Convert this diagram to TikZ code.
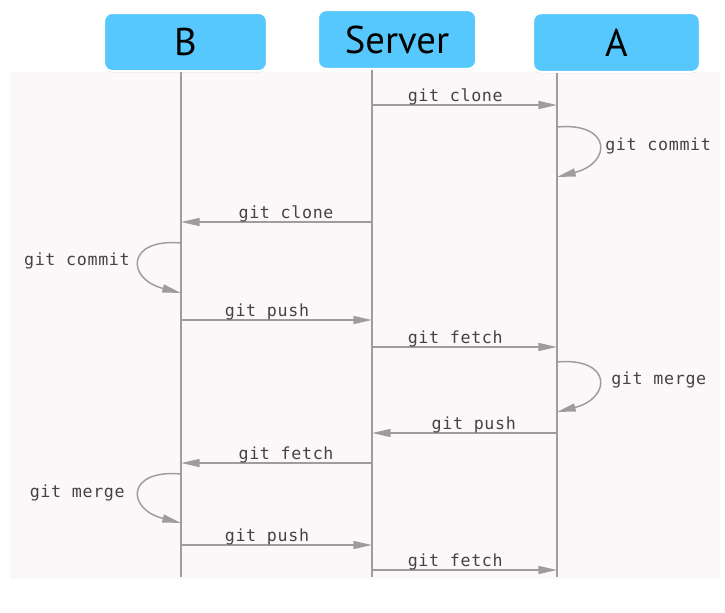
\documentclass[tikz,border=0pt]{standalone}
\usepackage{fontspec}
\usetikzlibrary{arrows.meta,shadows}
\newfontfamily\boxfont{PT Sans}
\newfontfamily\msgfont[LetterSpace=4]{DejaVu Sans Mono}
\definecolor{boxblue}{HTML}{57C8FD}
\definecolor{linegray}{HTML}{A19C9C}
\definecolor{txtgray}{HTML}{444242}
\definecolor{bggray}{HTML}{FAF8F8}
\begin{document}
\begin{tikzpicture}[x=0.75pt,y=-0.75pt,
  actor/.style={draw=white, line width=1.5pt, fill=boxblue, rounded corners=6pt,
    inner sep=0pt, text=black, font=\boxfont\fontsize{29}{30}\selectfont,
    drop shadow={shadow xshift=0pt, shadow yshift=-1pt, opacity=0.3, fill=gray}},
  life/.style={draw=linegray, line width=1.1pt},
  msg/.style={draw=linegray, line width=1.1pt, -{Triangle[length=14pt,width=6pt]}},
  lbl/.style={text=txtgray, font=\msgfont\fontsize{12.5}{13}\selectfont, inner sep=0pt},
  mlbl/.style={lbl, anchor=base, yshift=2.6pt, pos=0.45}]
\useasboundingbox (0,0) rectangle (725,612);
\fill[white] (0,0) rectangle (725,612);
\fill[bggray] (10,72) rectangle (720,579);

% lifelines
\coordinate (Btop) at (181,70);
\coordinate (Bbot) at (181,577);
\coordinate (Stop) at (372,68);
\coordinate (Sbot) at (372,577);
\coordinate (Atop) at (557,71);
\coordinate (Abot) at (557,577);
\draw[life] (Btop) -- (Bbot);
\draw[life] (Stop) -- (Sbot);
\draw[life] (Atop) -- (Abot);

% actors
\node[actor, minimum width=122pt, minimum height=43.5pt] (B) at (185.5,42) {B};
\node[actor, minimum width=118.5pt, minimum height=44pt] (S) at (397,39.5) {Server};
\node[actor, minimum width=125pt, minimum height=44pt] (A) at (616.5,42.5) {A};

% message end points
\coordinate (s1) at (372,105); \coordinate (a1) at (557,105);
\coordinate (s2) at (372,222); \coordinate (b2) at (181,222);
\coordinate (b3) at (181,320); \coordinate (s3) at (372,320);
\coordinate (s4) at (372,347); \coordinate (a4) at (557,347);
\coordinate (a5) at (557,433); \coordinate (s5) at (372,433);
\coordinate (s6) at (372,463); \coordinate (b6) at (181,463);
\coordinate (b7) at (181,545); \coordinate (s7) at (372,545);
\coordinate (s8) at (372,570); \coordinate (a8) at (557,570);

\draw[msg] (s1) -- (a1) node[mlbl] {git clone};
\draw[msg] (s2) -- (b2) node[mlbl] {git clone};
\draw[msg] (b3) -- (s3) node[mlbl] {git push};
\draw[msg] (s4) -- (a4) node[mlbl] {git fetch};
\draw[msg] (a5) -- (s5) node[mlbl] {git push};
\draw[msg] (s6) -- (b6) node[mlbl] {git fetch};
\draw[msg] (b7) -- (s7) node[mlbl] {git push};
\draw[msg] (s8) -- (a8) node[mlbl] {git fetch};

% self loops
\coordinate (la1) at (557,127); \coordinate (la2) at (557,177);
\draw[msg] (la1) .. controls (612,122) and (612,163) .. (la2);
\node[lbl, anchor=base west] (lc1) at (605,150) {git commit};

\coordinate (lb1) at (181,243); \coordinate (lb2) at (181,293);
\draw[msg] (lb1) .. controls (126,238) and (126,279) .. (lb2);
\node[lbl, anchor=base east] (lc2) at (130,265) {git commit};

\coordinate (lm1) at (557,362); \coordinate (lm2) at (557,412);
\draw[msg] (lm1) .. controls (612,357) and (612,398) .. (lm2);
\node[lbl, anchor=base west] (lc3) at (611,384) {git merge};

\coordinate (ln1) at (181,474); \coordinate (ln2) at (181,523);
\draw[msg] (ln1) .. controls (126,469) and (126,509) .. (ln2);
\node[lbl, anchor=base east] (lc4) at (125,497) {git merge};
\end{tikzpicture}
\end{document}
